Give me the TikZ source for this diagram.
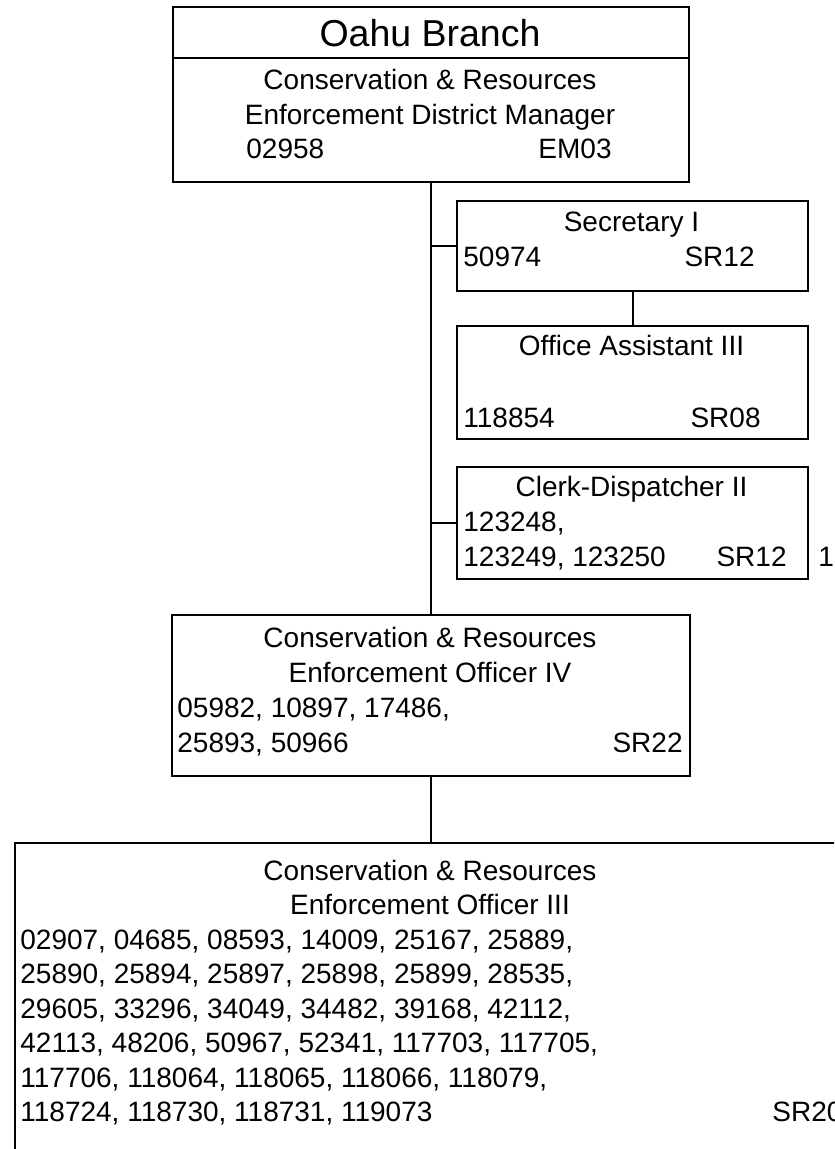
\documentclass[tikz,border=0pt]{standalone}
\usepackage{fontspec}
\setmainfont{Liberation Sans}
\usetikzlibrary{positioning}

\begin{document}
\begin{tikzpicture}[x=0.5pt,y=-0.5pt,font=\fontsize{14}{17}\selectfont,
    box/.style={draw,line width=1pt,inner sep=0,anchor=north west},
    ctr/.style={inner sep=0,anchor=base},
    lft/.style={inner sep=0,anchor=base west},
    rgt/.style={inner sep=0,anchor=base east},
    wire/.style={line width=1pt}]
  \useasboundingbox (0,0) rectangle (834,1149);
  \clip (0,0) rectangle (834,1149);
  % boxes
  \node[box,minimum width=258pt,minimum height=25.5pt] (hdr) at (172,6) {};
  \node[box,minimum width=258pt,minimum height=62pt] (mgr) at (172,57) {};
  \node[box,minimum width=175.5pt,minimum height=45pt] (sec) at (456,200) {};
  \node[box,minimum width=175.5pt,minimum height=56.5pt] (office) at (456,325) {};
  \node[box,minimum width=175.5pt,minimum height=56pt] (clerk) at (456,466) {};
  \node[box,minimum width=259pt,minimum height=80.5pt] (eofour) at (171,614) {};
  \node[box,minimum width=416pt,minimum height=170pt] (eothree) at (14,842) {};
  % connectors
  \draw[wire] (mgr.south) -- (eofour.north);
  \draw[wire] (eofour.south) -- (eothree.north);
  \draw[wire] (sec.west) -- (sec.west -| mgr.south);
  \draw[wire] (clerk.west) -- (clerk.west -| mgr.south);
  \draw[wire] (sec.south) -- (office.north);
  % texts
  \node[ctr,font=\fontsize{18.75}{22}\selectfont] (hdrT) at (430,47) {Oahu Branch};
  \node[ctr] (mgrA) at (430,90) {Conservation \& Resources};
  \node[ctr] (mgrB) at (430,125) {Enforcement District Manager};
  \node[lft] (mgrN) at (246,159) {02958};
  \node[rgt] (mgrG) at (612,159) {EM03};
  \node[ctr] (secA) at (631.5,232) {Secretary I};
  \node[lft] (secN) at (463,267) {50974};
  \node[rgt] (secG) at (755,267) {SR12};
  \node[ctr] (officeA) at (631.5,356) {Office Assistant III};
  \node[lft] (officeN) at (463,428) {118854};
  \node[rgt] (officeG) at (761,428) {SR08};
  \node[ctr] (clerkA) at (631.5,496) {Clerk-Dispatcher II};
  \node[lft] (clerkN) at (463,531) {123248,};
  \node[lft] (clerkM) at (463,566) {123249, 123250};
  \node[rgt] (clerkG) at (787,566) {SR12};
  \node[lft] (clerkX) at (818,566) {1};
  \node[ctr] (eofourA) at (430,647) {Conservation \& Resources};
  \node[ctr] (eofourB) at (430,682) {Enforcement Officer IV};
  \node[lft] (eofourN) at (177,717) {05982, 10897, 17486,};
  \node[lft] (eofourM) at (177,752) {25893, 50966};
  \node[rgt] (eofourG) at (683,752) {SR22};
  \node[ctr] (eothreeA) at (430,880) {Conservation \& Resources};
  \node[ctr] (eothreeB) at (430,914.5) {Enforcement Officer III};
  \node[lft] (eothreeN1) at (20,949) {02907, 04685, 08593, 14009, 25167, 25889,};
  \node[lft] (eothreeN2) at (20,983.5) {25890, 25894, 25897, 25898, 25899, 28535,};
  \node[lft] (eothreeN3) at (20,1018) {29605, 33296, 34049, 34482, 39168, 42112,};
  \node[lft] (eothreeN4) at (20,1052.5) {42113, 48206, 50967, 52341, 117703, 117705,};
  \node[lft] (eothreeN5) at (20,1087) {117706, 118064, 118065, 118066, 118079,};
  \node[lft] (eothreeN6) at (20,1121.5) {118724, 118730, 118731, 119073};
  \node[lft] (eothreeG) at (772,1121.5) {SR20};
\end{tikzpicture}
\end{document}
